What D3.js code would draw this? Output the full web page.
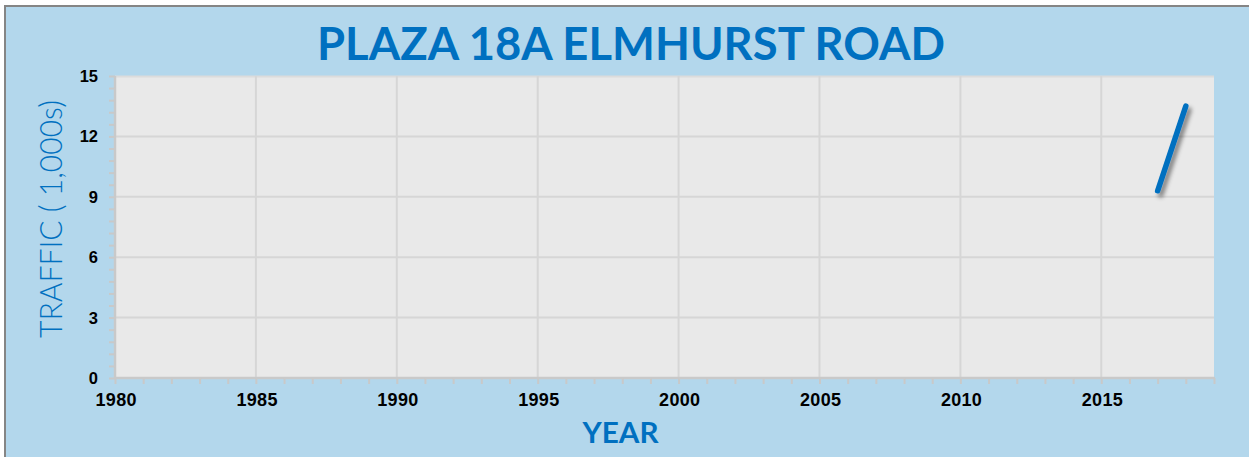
<!DOCTYPE html>
<html>
<head>
<meta charset="utf-8">
<script src="https://cdn.jsdelivr.net/npm/d3@7"></script>
<style>
  html, body { margin: 0; padding: 0; background: #ffffff; }
  svg { display: block; }
</style>
</head>
<body>
<svg id="chart" width="1249" height="457"></svg>
<script>
// Annual traffic counts at the plaza (thousands of vehicles)
const years = [2017, 2018];
const traffic = [9.3, 13.5];

const xTicks = [1980, 1985, 1990, 1995, 2000, 2005, 2010, 2015];
const yTicks = [0, 3, 6, 9, 12, 15];

const titleText = "PLAZA 18A ELMHURST ROAD";
const xTitle = "YEAR";
const yTitle = "TRAFFIC ( 1,000s)";

const W = 1249, H = 457;
const plot = { left: 115, right: 1214, top: 76, bottom: 378 };
const blue = "#0070c0";

const svg = d3.select("#chart");

const defs = svg.append("defs");
const f = defs.append("filter").attr("id", "lineShadow")
  .attr("x", "-50%").attr("y", "-20%").attr("width", "200%").attr("height", "140%");
f.append("feDropShadow").attr("dx", 3).attr("dy", 4).attr("stdDeviation", 2)
  .attr("flood-color", "#000").attr("flood-opacity", 0.45);

// outer panel
svg.append("rect")
  .attr("x", 5).attr("y", 6).attr("width", W + 10).attr("height", H + 10)
  .attr("fill", "#b3d7ec").attr("stroke", "#858585").attr("stroke-width", 2);

const x = d3.scaleLinear().domain([1980, 2019]).range([plot.left, plot.right]);
const y = d3.scaleLinear().domain([0, 15]).range([plot.bottom, plot.top]);

// plot area
svg.append("rect")
  .attr("x", plot.left).attr("y", plot.top)
  .attr("width", plot.right - plot.left).attr("height", plot.bottom - plot.top)
  .attr("fill", "#e9e9e9");
svg.append("line")
  .attr("x1", plot.left).attr("x2", plot.right)
  .attr("y1", plot.top + 0.5).attr("y2", plot.top + 0.5)
  .attr("stroke", "#dcdcdc").attr("stroke-width", 2);

// gridlines
const grid = svg.append("g");
grid.selectAll("line.v").data(xTicks.filter(d => d > 1980)).join("line")
  .attr("x1", d => x(d)).attr("x2", d => x(d))
  .attr("y1", plot.top).attr("y2", plot.bottom)
  .attr("stroke", "#d6d6d6").attr("stroke-width", 2);
grid.selectAll("line.h").data(yTicks.filter(d => d > 0 && d < 15)).join("line")
  .attr("x1", plot.left).attr("x2", plot.right)
  .attr("y1", d => y(d)).attr("y2", d => y(d))
  .attr("stroke", "#d6d6d6").attr("stroke-width", 2);

const axisColor = "#c9c9c9";

// minor ticks
const xMinor = d3.range(1980, 2020, 1);
const yMinor = d3.range(0, 15.001, 0.6);

const xAxis = svg.append("g").attr("transform", `translate(0,${plot.bottom})`)
  .call(d3.axisBottom(x).tickValues(xMinor).tickSize(6).tickFormat(""));
xAxis.select(".domain").attr("stroke", axisColor).attr("stroke-width", 2.5)
  .attr("d", `M${plot.left},0H${plot.right + 1}`);
xAxis.selectAll(".tick line").attr("stroke", axisColor).attr("stroke-width", 2);

const yAxis = svg.append("g").attr("transform", `translate(${plot.left},0)`)
  .call(d3.axisLeft(y).tickValues(yMinor).tickSize(6).tickFormat(""));
yAxis.select(".domain").attr("stroke", axisColor).attr("stroke-width", 2.5)
  .attr("d", `M0,${plot.top}V${plot.bottom}`);
yAxis.selectAll(".tick line").attr("stroke", axisColor).attr("stroke-width", 2);

// tick labels
svg.append("g").selectAll("text").data(xTicks).join("text")
  .attr("x", d => x(d) + 1).attr("y", 405.5)
  .attr("text-anchor", "middle")
  .attr("font-family", "Liberation Sans, Arial, sans-serif")
  .attr("font-weight", "bold").attr("font-size", 18).attr("fill", "#000")
  .attr("textLength", 41).attr("lengthAdjust", "spacing")
  .text(d => d);

svg.append("g").selectAll("text").data(yTicks).join("text")
  .attr("x", 98).attr("y", d => y(d) + 6)
  .attr("text-anchor", "end")
  .attr("font-family", "Liberation Sans, Arial, sans-serif")
  .attr("font-weight", "bold").attr("font-size", 16.5).attr("fill", "#000")
  .text(d => d);

// series
const line = d3.line().x((d, i) => x(years[i])).y(d => y(d));
svg.append("path")
  .datum(traffic)
  .attr("d", line)
  .attr("fill", "none").attr("stroke", blue).attr("stroke-width", 5.5)
  .attr("stroke-linecap", "round")
  .attr("filter", "url(#lineShadow)");

// titles
svg.append("text")
  .attr("x", 631).attr("y", 60)
  .attr("text-anchor", "middle")
  .attr("font-family", "Lato, 'Noto Sans', sans-serif")
  .attr("font-weight", "bold").attr("font-size", 46).attr("fill", blue)
  .attr("textLength", 628).attr("lengthAdjust", "spacingAndGlyphs")
  .text(titleText);

svg.append("text")
  .attr("x", 620.5).attr("y", 442.7)
  .attr("text-anchor", "middle")
  .attr("font-family", "Lato, 'Noto Sans', sans-serif")
  .attr("font-weight", "bold").attr("font-size", 29).attr("fill", blue)
  .attr("textLength", 76).attr("lengthAdjust", "spacingAndGlyphs")
  .text(xTitle);

svg.append("text")
  .attr("transform", "translate(61.5,219) rotate(-90)")
  .attr("text-anchor", "middle")
  .attr("font-family", "Lato, 'Noto Sans', sans-serif")
  .attr("font-weight", 300).attr("font-size", 32).attr("fill", "#0070c0")
  .attr("textLength", 238).attr("lengthAdjust", "spacingAndGlyphs")
  .text(yTitle);
</script>
</body>
</html>
